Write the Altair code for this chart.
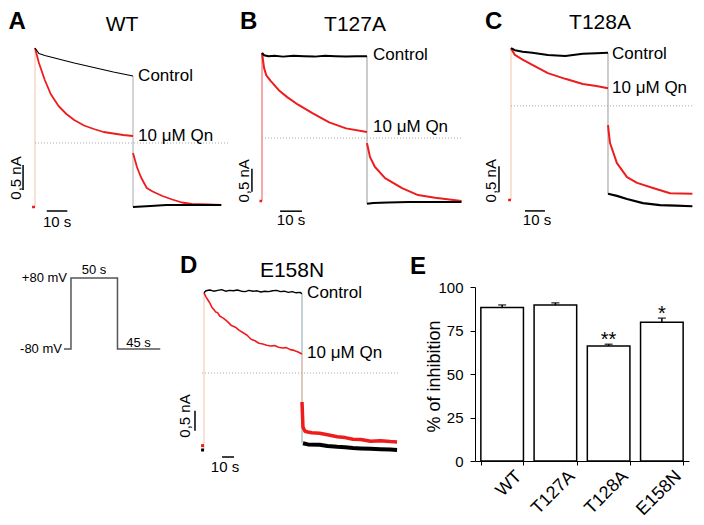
import altair as alt
import pandas as pd

FONT = "Liberation Sans"
RED = "#ee1c1c"
BLACK = "#000000"
ONSET = "#f2c2a6"

# ======================= DATA (time in s, current in nA) =======================
# Panel A - WT
A_ctrl_t = [0, 2, 5, 10, 15, 20, 30, 40, 50]
A_ctrl_i = [3.16, 3.05, 3.01, 2.96, 2.91, 2.86, 2.77, 2.68, 2.60]
A_qn_t = [0, 2, 5, 8, 12, 16, 20, 25, 30, 35, 40, 45, 50]
A_qn_i = [3.16, 2.86, 2.52, 2.24, 2.00, 1.84, 1.72, 1.61, 1.54, 1.48, 1.45, 1.42, 1.40]
A_qn_tail_t = [50, 52, 54, 57, 60, 65, 70, 75, 80, 88, 95]
A_qn_tail_i = [1.06, 0.78, 0.58, 0.36, 0.29, 0.20, 0.13, 0.07, 0.04, 0.03, 0.02]
A_ctrl_tail_t = [50, 59, 67, 80, 95]
A_ctrl_tail_i = [-0.02, 0.00, 0.02, 0.02, 0.02]

# Panel B - T127A
B_ctrl_t = [0, 1, 3, 6, 10, 15, 20, 25, 30, 35, 40, 45, 50]
B_ctrl_i = [3.24, 3.19, 3.17, 3.18, 3.16, 3.18, 3.17, 3.16, 3.18, 3.17, 3.16, 3.17, 3.17]
B_qn_t = [0, 1, 2, 4, 8, 12, 17, 24, 32, 40, 50]
B_qn_i = [3.24, 2.91, 2.76, 2.64, 2.43, 2.28, 2.12, 1.93, 1.73, 1.60, 1.52]
B_qn_tail_t = [50, 51.4, 53.8, 58.6, 66.7, 74.3, 82.4, 95]
B_qn_tail_i = [1.28, 0.98, 0.76, 0.52, 0.30, 0.15, 0.09, 0.02]
B_ctrl_tail_t = [50, 53, 60, 70, 80, 95]
B_ctrl_tail_i = [-0.04, -0.02, -0.01, 0.00, 0.00, 0.00]

# Panel C - T128A
C_ctrl_t = [0, 2, 6, 11, 19, 28, 37, 44, 50]
C_ctrl_i = [2.92, 2.88, 2.85, 2.83, 2.79, 2.77, 2.81, 2.82, 2.83]
C_qn_t = [0, 2, 6, 11, 19, 28, 37, 44, 50]
C_qn_i = [2.92, 2.79, 2.70, 2.60, 2.44, 2.33, 2.23, 2.19, 2.15]
C_qn_tail_t = [50, 51, 54.6, 59.8, 65, 73.2, 82, 93.5]
C_qn_tail_i = [1.44, 1.10, 0.71, 0.44, 0.33, 0.23, 0.13, 0.12]
C_ctrl_tail_t = [50, 54.6, 59.8, 68, 76.8, 85, 93.5]
C_ctrl_tail_i = [0.12, 0.08, 0.02, -0.06, -0.10, -0.11, -0.12]

# Panel D - E158N
D_ctrl_t = [0, 1, 3, 5, 7, 9, 11, 13, 15, 17, 19, 21, 23, 25, 27, 29, 31, 33, 35,
            37, 39, 41, 43, 45, 47, 49, 50]
D_ctrl_i = [3.88, 3.93, 3.95, 3.92, 3.94, 3.96, 3.92, 3.94, 3.93, 3.95, 3.92, 3.91,
            3.94, 3.92, 3.93, 3.90, 3.92, 3.91, 3.93, 3.94, 3.91, 3.92, 3.89, 3.91,
            3.88, 3.89, 3.86]
D_qn_t = [0, 1, 2, 3, 4, 5, 6, 7, 8, 10, 12, 14, 16, 18, 20, 22, 24, 26, 28, 30,
          32, 34, 36, 38, 40, 42, 44, 46, 48, 50]
D_qn_i = [3.88, 3.78, 3.70, 3.62, 3.52, 3.46, 3.40, 3.38, 3.30, 3.24, 3.16, 3.06,
          3.02, 2.94, 2.88, 2.82, 2.72, 2.68, 2.62, 2.60, 2.57, 2.55, 2.56, 2.52,
          2.50, 2.51, 2.46, 2.44, 2.40, 2.35]
D_qn_tail_t = [50, 50.5, 51.5, 53, 55, 59, 63, 68, 72, 76, 80, 85, 90, 95, 98.5]
D_qn_tail_i = [1.15, 0.52, 0.42, 0.40, 0.38, 0.37, 0.33, 0.28, 0.26, 0.22, 0.21,
               0.17, 0.18, 0.16, 0.15]
D_ctrl_tail_t = [50.5, 53, 59, 63, 68, 72, 76, 80, 85, 90, 95, 98.5]
D_ctrl_tail_i = [0.12, 0.09, 0.08, 0.05, 0.03, 0.02, 0.00, -0.01, -0.02, -0.03,
                 -0.04, -0.05]

# Voltage protocol (s, mV)
P_t = [-7.5, 0, 0, 50, 50, 96]
P_v = [-80, -80, 80, 80, -80, -80]

# Panel E - % of inhibition
E_cats = ["WT", "T127A", "T128A", "E158N"]
E_mean = [88.2, 89.6, 66.1, 79.8]
E_sem = [1.5, 1.3, 1.0, 2.3]
E_sig = ["", "", "**", "*"]

QN = "10 \u03bcM Qn"

# ======================= PANEL SPECS =======================
panels = {
    "A": dict(
        w=224, h=222, xdom=[-13.78, 100.5], ydom=[-0.48, 3.96],
        vrules=[(0, -0.02, 3.16, ONSET, 1.0), (50, -0.02, 2.60, "#aaaaaa", 1.0)],
        dotted=(0, 99.5, 1.26),
        lines=[([-1.5, 0], [-0.02, -0.02], RED, 2.5),
               (A_qn_t, A_qn_i, RED, 1.8), (A_qn_tail_t, A_qn_tail_i, RED, 1.8),
               (A_ctrl_t, A_ctrl_i, BLACK, 1.2), (A_ctrl_tail_t, A_ctrl_tail_i, BLACK, 1.8)],
        bars=[(-6.1, -6.1, 0.32, 0.82), (6.0, 16.5, -0.10, -0.10)],
        letter=(-13.5, 3.92, "A"), title=(44.4, 3.62, "WT"),
        labels=[(52.6, 2.60, "Control"), (52.6, 1.40, QN)],
        sec=(11.3, -0.32), na=(-9.6, 0.56)),
    "B": dict(
        w=233, h=222, xdom=[-14.29, 96.67], ydom=[-0.609, 4.217],
        vrules=[(0, 0.02, 3.24, "#f07070", 1.2), (50, -0.04, 3.17, "#999999", 1.0)],
        dotted=(0, 95.7, 1.39),
        lines=[([-1.2, 0], [0.02, 0.02], RED, 2.5),
               (B_qn_t, B_qn_i, RED, 2.0), (B_qn_tail_t, B_qn_tail_i, RED, 2.0),
               (B_ctrl_t, B_ctrl_i, BLACK, 2.0), (B_ctrl_tail_t, B_ctrl_tail_i, BLACK, 2.0)],
        bars=[(-4.8, -4.8, 0.22, 0.72), (8.6, 19.0, -0.20, -0.20)],
        letter=(-10.5, 4.17, "B"), title=(44.3, 3.84, "T127A"),
        labels=[(52.9, 3.20, "Control"), (52.9, 1.63, QN)],
        sec=(13.8, -0.39), na=(-8.6, 0.46)),
    "C": dict(
        w=229, h=222, xdom=[-23.71, 94.33], ydom=[-0.577, 3.692],
        vrules=[(0, 0.0, 2.92, ONSET, 1.0), (50, 0.12, 2.83, "#999999", 1.0)],
        dotted=(0, 93.5, 1.81),
        lines=[([-1.5, 0], [0.0, 0.0], RED, 2.5),
               (C_qn_t, C_qn_i, RED, 2.0), (C_qn_tail_t, C_qn_tail_i, RED, 2.0),
               (C_ctrl_t, C_ctrl_i, BLACK, 2.0), (C_ctrl_tail_t, C_ctrl_tail_i, BLACK, 2.2)],
        bars=[(-6.2, -6.2, 0.15, 0.65), (7.2, 17.5, -0.21, -0.21)],
        letter=(-13.4, 3.65, "C"), title=(45.9, 3.40, "T128A"),
        labels=[(52.1, 2.81, "Control"), (52.1, 2.15, QN)],
        sec=(13.4, -0.38), na=(-10.3, 0.37)),
    "D": dict(
        w=238, h=283, xdom=[-16.33, 105.1], ydom=[-1.625, 5.45],
        vrules=[(0, -0.05, 3.88, ONSET, 1.0), (50, 0.12, 3.86, "#8aa5ad", 1.0),
                (50, 0.52, 2.35, ONSET, 1.0)],
        dotted=(-1, 100, 1.875),
        lines=[([-1.5, 0], [0.06, 0.06], RED, 3.0), ([-1.5, 0], [-0.05, -0.05], BLACK, 3.0),
               (D_qn_t, D_qn_i, RED, 1.6), (D_qn_tail_t, D_qn_tail_i, RED, 3.5),
               (D_ctrl_t, D_ctrl_i, BLACK, 1.4), (D_ctrl_tail_t, D_ctrl_tail_i, BLACK, 4.0)],
        bars=[(-4.6, -4.6, 0.43, 0.93), (9.2, 15.3, -0.225, -0.225)],
        letter=(-12.2, 4.85, "D"), title=(44.9, 4.425, "E158N"),
        labels=[(52.6, 3.88, "Control"), (52.6, 2.38, QN)],
        sec=(10.7, -0.475), na=(-9.7, 0.80)),
}


def build_lines(series):
    rows = []
    for sid, (ts, vs, col, wid) in enumerate(series):
        for k, (t, v) in enumerate(zip(ts, vs)):
            rows.append(dict(t=t, v=v, sid=sid, k=k, c=col, w=wid))
    return pd.DataFrame(rows)


def txt(rows, xs, ys, **kw):
    df = pd.DataFrame(rows, columns=["t", "v", "s"])
    return alt.Chart(df).mark_text(color="black", **kw).encode(
        x=alt.X("t:Q", scale=xs, axis=None),
        y=alt.Y("v:Q", scale=ys, axis=None),
        text="s:N")


def trace_panel(P):
    xs = alt.Scale(domain=P["xdom"], nice=False, zero=False)
    ys = alt.Scale(domain=P["ydom"], nice=False, zero=False)
    layers = []
    vr = pd.DataFrame(P["vrules"], columns=["t", "lo", "hi", "c", "w"])
    layers.append(alt.Chart(vr).mark_rule().encode(
        x=alt.X("t:Q", scale=xs, axis=None),
        y=alt.Y("lo:Q", scale=ys, axis=None), y2="hi:Q",
        color=alt.Color("c:N", scale=None),
        strokeWidth=alt.StrokeWidth("w:Q", scale=None)))
    dt = pd.DataFrame([P["dotted"]], columns=["t1", "t2", "v"])
    layers.append(alt.Chart(dt).mark_rule(color="#a8a8a8", strokeWidth=1, strokeDash=[1, 2]).encode(
        x=alt.X("t1:Q", scale=xs, axis=None), x2="t2:Q",
        y=alt.Y("v:Q", scale=ys, axis=None)))
    ln = build_lines(P["lines"])
    layers.append(alt.Chart(ln).mark_line(strokeJoin="round").encode(
        x=alt.X("t:Q", scale=xs, axis=None),
        y=alt.Y("v:Q", scale=ys, axis=None),
        detail="sid:N", order="k:Q",
        color=alt.Color("c:N", scale=None),
        strokeWidth=alt.StrokeWidth("w:Q", scale=None)))
    sb = pd.DataFrame(P["bars"], columns=["x1", "x2", "y1", "y2"])
    layers.append(alt.Chart(sb).mark_rule(color="black", strokeWidth=1.5).encode(
        x=alt.X("x1:Q", scale=xs, axis=None), x2="x2:Q",
        y=alt.Y("y1:Q", scale=ys, axis=None), y2="y2:Q"))
    layers.append(txt([P["letter"]], xs, ys, align="left", baseline="top",
                      fontSize=24, fontWeight="bold"))
    layers.append(txt([P["title"]], xs, ys, align="center", baseline="middle", fontSize=21))
    layers.append(txt(P["labels"], xs, ys, align="left", baseline="middle", fontSize=17))
    layers.append(txt([P["sec"] + ("10 s",)], xs, ys, align="center", baseline="middle", fontSize=15))
    layers.append(txt([P["na"] + ("0,5 nA",)], xs, ys, align="center", baseline="middle",
                      fontSize=15, angle=270))
    return alt.layer(*layers).properties(width=P["w"], height=P["h"])


# ---------------- protocol panel ----------------
pxs = alt.Scale(domain=[-67.7, 108.6], nice=False, zero=False)
pys = alt.Scale(domain=[-449.3, 188.1], nice=False, zero=False)
pdf = pd.DataFrame({"t": P_t, "v": P_v, "k": list(range(len(P_t)))})
proto = alt.layer(
    alt.Chart(pdf).mark_line(color="#555555", strokeWidth=1.5).encode(
        x=alt.X("t:Q", scale=pxs, axis=None),
        y=alt.Y("v:Q", scale=pys, axis=None), order="k:Q"),
    txt([(-4.3, 80, "+80 mV"), (-9.7, -80, "-80 mV")], pxs, pys,
        align="right", baseline="middle", fontSize=13),
    txt([(24.7, 98, "50 s"), (72.6, -66, "45 s")], pxs, pys,
        align="center", baseline="middle", fontSize=13),
).properties(width=164, height=283)

# ---------------- panel E ----------------
dfE = pd.DataFrame({"g": E_cats, "m": E_mean, "e": E_sem, "s": E_sig})
dfE["hi"] = dfE["m"] + dfE["e"]
xE = alt.X("g:N", sort=E_cats,
           scale=alt.Scale(paddingInner=0.2, paddingOuter=0.11),
           axis=alt.Axis(title=None, labelAngle=315, labelAlign="right", labelBaseline="top",
                         labelFontSize=18, labelColor="black", labelOffset=10, labelPadding=2,
                         tickBand="extent", tickSize=4, tickColor="black",
                         domainColor="black"))
# plot area spans the whole row height; the 0-100 range sits in its lower part
yScale = alt.Scale(domain=[0, 100], nice=False, range=[231, 57])
yAxis = alt.Axis(values=[0, 12.5, 25, 37.5, 50, 62.5, 75, 87.5, 100],
                 labelExpr="datum.value % 25 == 0 ? datum.label : ''",
                 tickSize={"condition": {"test": "datum.value % 25 == 0", "value": 5}, "value": 3},
                 grid=False, labelFontSize=15, labelColor="black", labelPadding=7,
                 tickColor="black", domainColor="black",
                 title="% of inhibition", titleFontSize=18, titleFontWeight="normal",
                 titleColor="black", titleX=-32, titleY=146, titleAngle=270,
                 titleAlign="center", titleBaseline="bottom")
bars = alt.Chart(dfE).mark_bar(fill="white", stroke="black", strokeWidth=1.5).encode(
    x=xE, y=alt.Y("m:Q", scale=yScale, axis=yAxis))
err = alt.Chart(dfE).mark_rule(color="black", strokeWidth=1.5).encode(
    x=xE, y=alt.Y("m:Q", scale=yScale), y2="hi:Q")
cap = alt.Chart(dfE).mark_tick(color="black", thickness=1.5, size=8).encode(
    x=xE, y=alt.Y("hi:Q", scale=yScale))
stars = alt.Chart(dfE).mark_text(fontSize=20, baseline="alphabetic", dy=2, color="black").encode(
    x=xE, y=alt.Y("hi:Q", scale=yScale), text="s:N")
letterE = alt.Chart(pd.DataFrame({"s": ["E"]})).mark_text(
    align="left", baseline="top", fontSize=24, fontWeight="bold", color="black").encode(
    x=alt.value(-65), y=alt.value(25), text="s:N")
panelE = alt.layer(bars, err, cap, stars, letterE).properties(width=214, height=231)

top = alt.hconcat(trace_panel(panels["A"]), trace_panel(panels["B"]),
                  trace_panel(panels["C"]), spacing=0)
bottom = alt.hconcat(proto, trace_panel(panels["D"]), panelE, spacing=0)

chart = alt.vconcat(top, bottom, spacing=0).properties(padding=0) \
    .configure(font=FONT).configure_view(strokeWidth=0)

chart.save("out.html", embed_options={"renderer": "svg", "actions": False})
